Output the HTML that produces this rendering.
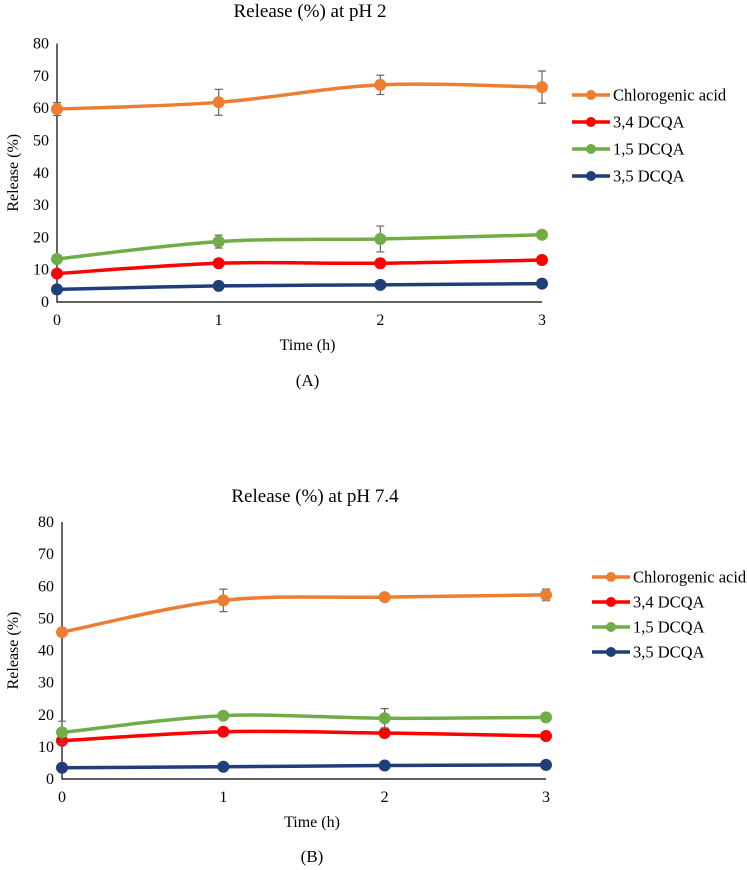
<!DOCTYPE html>
<html><head><meta charset="utf-8"><style>
body{margin:0;background:#fff;}
svg, svg text{font-family:"Liberation Serif","DejaVu Serif",serif;}
svg{display:block;}
</style></head><body>
<svg id="svg" width="747" height="870" viewBox="0 0 747 870" font-family="Liberation Serif, serif"></svg>
<script>
const times=[0,1,2,3];
const yTicks=[0,10,20,30,40,50,60,70,80];
const seriesNames=["Chlorogenic acid","3,4 DCQA","1,5 DCQA","3,5 DCQA"];
const colors=["#ED7D31","#FF0000","#70AD47","#1F3F7A"];
const aChloro=[59.7,61.8,67.2,66.5];
const aD34=[8.8,12,12,13];
const aD15=[13.3,18.7,19.5,20.8];
const aD35=[3.9,5,5.3,5.7];
const aErrChloro=[2,4,3,5];
const aErrD34=[0.8,1.3,1.3,0.5];
const aErrD15=[0.5,2,4,0.5];
const aErrD35=[0,0,0,0];
const bChloro=[45.7,55.6,56.6,57.3];
const bD34=[11.9,14.7,14.3,13.4];
const bD15=[14.5,19.7,18.9,19.2];
const bD35=[3.5,3.8,4.2,4.4];
const bErrChloro=[0.5,3.5,0.5,1.8];
const bErrD34=[0.8,1.2,1.2,1.2];
const bErrD15=[3.5,0.5,3,0.5];
const bErrD35=[0,0,0,0];

const NS="http://www.w3.org/2000/svg";
const svg=document.getElementById('svg');
function mk(tag,attrs,parent){const e=document.createElementNS(NS,tag);for(const k in attrs)e.setAttribute(k,attrs[k]);(parent||svg).appendChild(e);return e;}
function txt(s,attrs,parent){const e=mk('text',attrs,parent);e.setAttribute('font-family','Liberation Serif, serif');e.style.fontFamily='"Liberation Serif", serif';e.textContent=s;return e;}

function chart(cfg){
  const g=mk('g',{});
  
  
  const X=t=>cfg.x0+(cfg.x3-cfg.x0)*t/3;
  const Y=v=>cfg.y0-(cfg.y0-cfg.y80)*v/80;
  const ti=txt(cfg.title,{x:cfg.titleX,y:cfg.titleY,'text-anchor':'middle','font-size':19,fill:'#000'},g);
  
  
  const ax=mk('path',{d:`M${cfg.x0},${Y(80)}V${Y(0)}H${cfg.x3}`,stroke:'#000','stroke-width':1.2,fill:'none'},g);
  
  
  yTicks.forEach(v=>{
    const t=txt(String(v),{x:cfg.x0-8,y:Y(v)+5,'text-anchor':'end','font-size':16},g);
    
    
  });
  times.forEach(t=>{
    const l=txt(String(t),{x:X(t),y:Y(0)+23,'text-anchor':'middle','font-size':16},g);
    
    
  });
  const xt=txt('Time (h)',{x:(cfg.x0+cfg.x3)/2+8,y:Y(0)+48,'text-anchor':'middle','font-size':16},g);
  
  
  const yc=(Y(0)+Y(80))/2;
  const yt=txt('Release (%)',{x:0,y:0,transform:`translate(18,${yc}) rotate(-90)`,'text-anchor':'middle','font-size':16},g);
  
  
  const lab=txt(cfg.label,{x:(cfg.x0+cfg.x3)/2+8,y:cfg.labelY,'text-anchor':'middle','font-size':17},g);
  
  
  cfg.series.forEach((vals,si)=>{
    const pts=vals.map((v,i)=>[X(times[i]),Y(v)]);
    let d=`M${pts[0][0]},${pts[0][1]}`;
    for(let i=0;i<pts.length-1;i++){
      const p0=pts[Math.max(0,i-1)],p1=pts[i],p2=pts[i+1],p3=pts[Math.min(pts.length-1,i+2)];
      const c1=[p1[0]+(p2[0]-p0[0])/6,p1[1]+(p2[1]-p0[1])/6];
      const c2=[p2[0]-(p3[0]-p1[0])/6,p2[1]-(p3[1]-p1[1])/6];
      d+=`C${c1[0]},${c1[1]} ${c2[0]},${c2[1]} ${p2[0]},${p2[1]}`;
    }
    const ln=mk('path',{d,stroke:colors[si],'stroke-width':3.5,fill:'none'},g);
    
    
    vals.forEach((v,i)=>{
      const e=cfg.errs[si][i];
      if(e>0){
        const x=X(times[i]);
        const eb=mk('path',{d:`M${x},${Y(v+e)}V${Y(v-e)}M${x-4},${Y(v+e)}h8M${x-4},${Y(v-e)}h8`,stroke:'#666','stroke-width':1.2,fill:'none'},g);
        
        
      }
      const c=mk('circle',{cx:X(times[i]),cy:Y(v),r:6,fill:colors[si]},g);
      
      
    });
  });
  seriesNames.forEach((n,si)=>{
    const y=cfg.legY+si*cfg.legDy;
    const lg=mk('g',{},g);
    
    
    mk('line',{x1:cfg.legX,x2:cfg.legX+38,y1:y,y2:y,stroke:colors[si],'stroke-width':3.5},lg);
    mk('circle',{cx:cfg.legX+19,cy:y,r:5,fill:colors[si]},lg);
    txt(n,{x:cfg.legX+41,y:y+5.5,'font-size':16.5},lg);
  });
}
chart({name:'chart-ph2',title:'Release (%) at pH 2',titleX:310,titleY:17,label:'(A)',labelY:386,x0:57,x3:542,y0:302,y80:43.5,
  series:[aChloro,aD34,aD15,aD35],errs:[aErrChloro,aErrD34,aErrD15,aErrD35],legX:572,legY:95,legDy:27});
chart({name:'chart-ph74',title:'Release (%) at pH 7.4',titleX:315,titleY:502,label:'(B)',labelY:862,x0:62,x3:546,y0:779,y80:522,
  series:[bChloro,bD34,bD15,bD35],errs:[bErrChloro,bErrD34,bErrD15,bErrD35],legX:592,legY:577,legDy:25});
</script>
</body></html>
